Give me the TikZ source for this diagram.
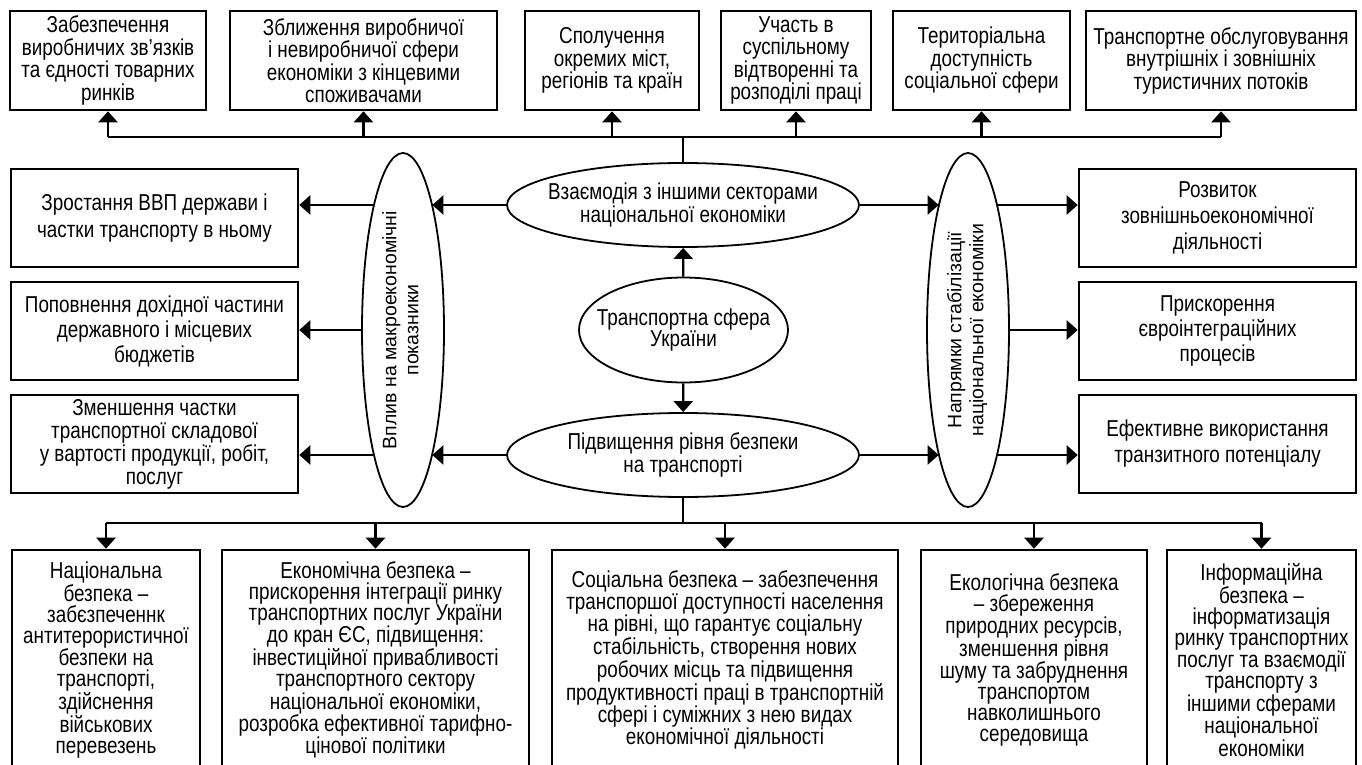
\documentclass[tikz,border=0pt]{standalone}
\usepackage{fontspec}
\setmainfont{Liberation Sans}
\newfontfamily\narrow[FakeStretch=0.82]{Liberation Sans}
\usetikzlibrary{arrows.meta,shapes.geometric}
\begin{document}
\begin{tikzpicture}[x=1pt,y=-1pt,line cap=butt,line join=miter,>={Triangle[width=19pt,length=11pt]}]
\tikzset{
box/.style={draw,line width=2.6pt,align=center,inner sep=0pt,font={\narrow\fontsize{23}{22.5}\selectfont}},
bx/.style 2 args={box,minimum width=#1,minimum height=#2},
sk/.style={font={\narrow\fontsize{23}{#1}\selectfont}},
ell/.style={draw,ellipse,line width=1.8pt,align=center,inner xsep=-45pt,inner ysep=0pt,font={\narrow\fontsize{23}{21}\selectfont}},
tall/.style={ell,minimum width=82,minimum height=354,font={\fontsize{19.5}{22}\selectfont}},
con/.style={line width=2.3pt}
}
\useasboundingbox (0,0) rectangle (1362,765);
\clip (0,0) rectangle (1362,765);
\node[bx={196}{99}] (t1) at (108,60.5) {Забезпечення\\виробничих зв’язків\\та єдності товарних\\ринків};
\node[bx={267}{99}] (t2) at (363.5,60.5) {Зближення виробничої\\і невиробничої сфери\\економіки з кінцевими\\споживачами};
\node[bx={174}{99}] (t3) at (612,60.5) {Сполучення\\окремих міст,\\регіонів та країн};
\node[bx={150}{99}] (t4) at (796,60.5) {Участь в\\суспільному\\відтворенні та\\розподілі праці};
\node[bx={177}{99}] (t5) at (981.5,60.5) {Територіальна\\доступність\\соціальної сфери};
\node[bx={270}{99}] (t6) at (1221,60.5) {Транспортне обслуговування\\внутрішніх і зовнішніх\\туристичних потоків};
\node[bx={287}{98},sk=27] (l1) at (154.5,218) {Зростання ВВП держави і\\частки транспорту в ньому};
\node[bx={287}{98},sk=25] (l2) at (154.5,331) {Поповнення дохідної частини\\державного і місцевих\\бюджетів};
\node[bx={287}{98},sk=23] (l3) at (154.5,444) {Зменшення частки\\транспортної складової\\у вартості продукції, робіт,\\послуг};
\node[bx={277}{98},sk=26] (r1) at (1217.5,218) {Розвиток\\зовнішньоекономічної\\діяльності};
\node[bx={277}{98},sk=25] (r2) at (1217.5,331) {Прискорення\\євроінтеграційних\\процесів};
\node[bx={277}{98},sk=26] (r3) at (1217.5,444) {Ефективне використання\\транзитного потенціалу};
\node[ell,minimum width=352,minimum height=84] (vz) at (683,205) {Взаємодія з іншими секторами\\національної економіки};
\node[ell,minimum width=209,minimum height=105] (ts) at (683.5,330) {Транспортна сфера\\України};
\node[ell,minimum width=352,minimum height=84] (pb) at (683,455) {Підвищення рівня безпеки\\на транспорті};
\node[tall] (vp) at (403,330) {\rotatebox{90}{\begin{tabular}{@{}c@{}}Вплив на макроекономічні\\показники\end{tabular}}};
\node[tall] (nap) at (968,330) {\rotatebox{90}{\begin{tabular}{@{}c@{}}Напрямки стабілізації\\національної економіки\end{tabular}}};
\node[bx={188}{220},sk=21] (b1) at (106,660) {Національна\\безпека –\\забєзпеченнк\\антитерористичної\\безпеки на\\транспорті,\\здійснення\\військових\\перевезень};
\node[bx={307}{220},sk=21] (b2) at (375.5,660) {Економічна безпека –\\прискорення інтеграції ринку\\транспортних послуг України\\до кран ЄС, підвищення:\\інвестиційної привабливості\\транспортного сектору\\національної економіки,\\розробка ефективної тарифно-\\цінової політики};
\node[bx={346}{220},sk=21] (b3) at (725,660) {Соціальна безпека – забезпечення\\транспоршої доступності населення\\на рівні, що гарантує соціальну\\стабільність, створення нових\\робочих місць та підвищення\\продуктивності праці в транспортній\\сфері і суміжних з нею видах\\економічної діяльності};
\node[bx={226}{220},sk=21] (b4) at (1034,660) {Екологічна безпека\\– збереження\\природних ресурсів,\\зменшення рівня\\шуму та забруднення\\транспортом\\навколишнього\\середовища};
\node[bx={189}{220},sk=21] (b5) at (1261.5,660) {Інформаційна\\безпека –\\інформатизація\\ринку транспортних\\послуг та взаємодії\\транспорту з\\іншими сферами\\національної\\економіки};
\coordinate (tbus) at (683,137);
\coordinate (bbus) at (683,523);
\draw[con] (vz) -- (tbus);
\draw[con] (tbus -| t1) -- (tbus -| t6);
\foreach \i in {1,...,6} \draw[con,->] (tbus -| t\i) -- (t\i);
\draw[con,->] (ts) -- (vz);
\draw[con,->] (ts) -- (pb);
\draw[con] (pb) -- (bbus);
\draw[con] (bbus -| b1) -- (bbus -| b5);
\foreach \i in {1,...,5} \draw[con,->] (bbus -| b\i) -- (b\i);
\draw[con,->] (vz.west) -- (vz.west -| vp.77);
\draw[con,->] (vz.west -| vp.103) -- (vz.west -| l1.east);
\draw[con,->] (vp.west) -- (vp.west -| l2.east);
\draw[con,->] (pb.west) -- (pb.west -| vp.283);
\draw[con,->] (pb.west -| vp.257) -- (pb.west -| l3.east);
\draw[con,->] (vz.east) -- (vz.east -| nap.103);
\draw[con,->] (vz.east -| nap.77) -- (vz.east -| r1.west);
\draw[con,->] (nap.east) -- (nap.east -| r2.west);
\draw[con,->] (pb.east) -- (pb.east -| nap.257);
\draw[con,->] (pb.east -| nap.283) -- (pb.east -| r3.west);
\end{tikzpicture}
\end{document}
